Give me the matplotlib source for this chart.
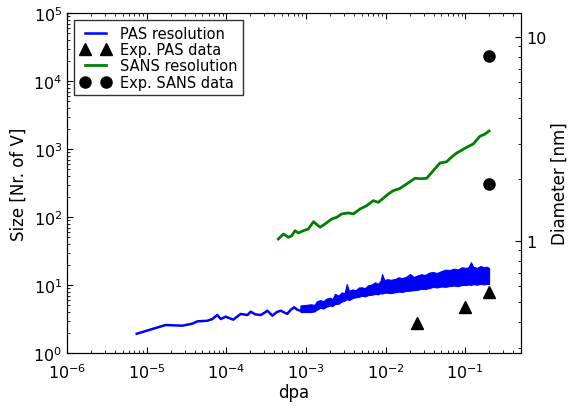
import numpy as np
import matplotlib
matplotlib.use("Agg")
import matplotlib.pyplot as plt
from matplotlib.ticker import LogLocator, FuncFormatter, NullFormatter

# ---- data ----
pas_line_dpa = [7.5e-6, 1.73e-5, 2.8e-5, 3.74e-5, 4.33e-5, 5.78e-5, 6.68e-5, 7.7e-5,
                8.5e-5, 9.8e-5, 1.22e-4, 1.51e-4, 1.84e-4, 2.02e-4, 2.3e-4, 2.7e-4,
                3.0e-4, 3.27e-4, 3.78e-4, 4.3e-4, 4.8e-4, 5.8e-4, 6.4e-4, 7.1e-4,
                7.8e-4, 8.5e-4, 9.5e-4]
pas_line_size = [1.92, 2.58, 2.52, 2.70, 2.92, 2.98, 3.16, 3.62,
                 3.16, 3.42, 3.09, 3.75, 3.62, 4.05, 3.7, 3.62,
                 3.9, 4.19, 3.54, 4.0, 4.19, 3.75, 4.3, 4.7,
                 4.3, 4.19, 4.6]

pas_band_dpa = [8.5e-4, 1.0e-3, 1.15e-3, 1.28e-3, 1.35e-3, 1.5e-3, 1.65e-3, 1.8e-3,
                2.0e-3, 2.15e-3, 2.3e-3, 2.55e-3, 2.8e-3, 3.05e-3, 3.24e-3, 3.45e-3,
                3.8e-3, 4.2e-3, 4.6e-3, 5.0e-3, 5.5e-3, 6.0e-3, 6.7e-3, 7.35e-3,
                8.0e-3, 8.6e-3, 9.0e-3, 9.6e-3, 1.05e-2, 1.15e-2, 1.31e-2, 1.45e-2,
                1.6e-2, 1.8e-2, 2.02e-2, 2.25e-2, 2.5e-2, 2.8e-2, 3.1e-2, 3.5e-2,
                3.9e-2, 4.4e-2, 5.0e-2, 5.6e-2, 6.4e-2, 7.2e-2, 8.0e-2, 9.0e-2,
                0.104, 0.11, 0.1175, 0.125, 0.14, 0.155, 0.17, 0.185, 0.198]
pas_band_hi = [5.0, 5.1, 5.2, 5.1, 5.7, 6.0, 5.8, 6.3, 6.5, 6.2,
               7.4, 7.0, 7.8, 7.6, 10.3, 8.2, 8.6, 8.4, 9.2, 9.25,
               9.0, 9.9, 10.2, 10.96, 10.4, 11.5, 14.5, 11.8, 12.2, 11.9,
               12.25, 13.0, 12.6, 13.2, 14.5, 13.1, 13.8, 14.4, 14.0, 15.2,
               15.5, 15.0, 16.0, 16.8, 16.6, 17.4, 16.9, 18.2, 17.8, 18.6,
               21.6, 18.5, 17.9, 19.0, 18.2, 18.6, 17.8]
pas_band_lo = [4.0, 4.0, 4.0, 4.1, 4.3, 4.6, 4.5, 4.8, 5.0, 4.9,
               5.25, 5.3, 5.7, 5.9, 6.2, 6.0, 6.4, 6.6, 6.7, 6.96,
               6.8, 7.1, 7.2, 7.38, 7.3, 7.6, 7.5, 7.7, 7.7, 7.6,
               7.81, 8.0, 7.9, 8.2, 8.24, 8.4, 8.5, 8.8, 8.7, 9.0,
               9.35, 9.2, 9.5, 9.4, 9.67, 9.8, 9.6, 10.0, 10.0, 10.2,
               10.0, 10.3, 10.1, 10.4, 10.2, 10.4, 10.3]

sans_dpa = [4.49e-4, 5.19e-4, 6.0e-4, 6.62e-4, 7.28e-4, 8.0e-4, 9.25e-4, 1.07e-3,
            1.24e-3, 1.5e-3, 1.73e-3, 2.1e-3, 2.43e-3, 2.8e-3, 3.4e-3, 3.92e-3,
            4.76e-3, 5.78e-3, 6.99e-3, 8.07e-3, 1.08e-2, 1.245e-2, 1.5e-2, 1.83e-2,
            2.33e-2, 2.8e-2, 3.27e-2, 3.95e-2, 4.8e-2, 5.82e-2, 6.7e-2, 7.78e-2,
            0.09, 0.1038, 0.1256, 0.152, 0.175, 0.198]
sans_size = [47.5, 56.2, 50.3, 53.1, 62.9, 58.2, 62.9, 66.6,
             85.3, 70.6, 78.9, 93.5, 99, 111, 114.5, 111,
             131, 147, 174, 164, 218, 244, 262, 306,
             371, 365, 371, 480, 622, 650, 760, 873,
             960, 1060, 1185, 1540, 1650, 1840]

exp_pas_dpa = [0.025, 0.1, 0.2]
exp_pas_size = [2.75, 4.8, 7.9]
exp_sans_dpa = [0.2, 0.2]
exp_sans_size = [2.3e4, 307]

x_ticks = [1e-6, 1e-5, 1e-4, 1e-3, 1e-2, 1e-1]
y_ticks = [1, 10, 100, 1e3, 1e4, 1e5]
d_ticks = [1, 10]

# Fe atomic volume (nm^3) -> vacancy-cluster diameter
omega = 0.2866 ** 3 / 2.0
def n_to_d(n):
    return (6.0 * np.asarray(n) * omega / np.pi) ** (1.0 / 3.0)

fig = plt.figure(figsize=(5.69, 4.10), dpi=100)
ax = fig.add_axes([0.1178, 0.1366, 0.798, 0.8293])

blue = (0, 0, 1)
ax.plot(pas_line_dpa, pas_line_size, color=blue, lw=1.8, label='PAS resolution')
ax.fill_between(pas_band_dpa, pas_band_lo, pas_band_hi, facecolor=blue, lw=0.8,
                edgecolor=blue)
ax.plot(exp_pas_dpa, exp_pas_size, 'k^', ms=8, ls='none', label='Exp. PAS data')
ax.plot(sans_dpa, sans_size, color=(0, 0.5, 0), lw=2, label='SANS resolution')
ax.plot(exp_sans_dpa, exp_sans_size, 'ko', ms=8, ls='none', label='Exp. SANS data')

ax.set_xscale('log')
ax.set_yscale('log')
ax.set_xlim(1e-6, 0.5)
ax.set_ylim(1, 1e5)
ax.set_xticks(x_ticks)
ax.set_yticks(y_ticks)
ax.xaxis.set_minor_locator(LogLocator(base=10, subs=np.arange(2, 10), numticks=20))
ax.yaxis.set_minor_locator(LogLocator(base=10, subs=np.arange(2, 10), numticks=20))
ax.xaxis.set_minor_formatter(NullFormatter())
ax.yaxis.set_minor_formatter(NullFormatter())
ax.tick_params(which='both', direction='in', top=True, labelsize=11.5)
ax.tick_params(which='major', length=4, width=0.8)
ax.tick_params(which='minor', length=2, width=0.6)
ax.tick_params(axis='x', pad=7)
ax.set_xlabel('dpa', fontsize=12, labelpad=1)
ax.set_ylabel('Size [Nr. of V]', fontsize=12)

leg = ax.legend(loc='upper left', numpoints=2, fontsize=10.5, frameon=True, fancybox=False,
                borderaxespad=0.5, handlelength=2.1, labelspacing=0.08, borderpad=0.4,
                handletextpad=0.6)
leg.get_frame().set_edgecolor('black')
leg.get_frame().set_linewidth(1.0)

ax2 = ax.twinx()
ax2.set_yscale('log')
ax2.set_ylim(float(n_to_d(1)), float(n_to_d(1e5)))
ax2.set_yticks(d_ticks)
ax2.yaxis.set_major_formatter(FuncFormatter(lambda v, p: '%g' % v))
ax2.yaxis.set_minor_locator(LogLocator(base=10, subs=np.arange(2, 10), numticks=20))
ax2.yaxis.set_minor_formatter(NullFormatter())
ax2.tick_params(which='both', direction='in', labelsize=11.5)
ax2.tick_params(which='major', length=4, width=0.8)
ax2.tick_params(which='minor', length=2, width=0.6)
ax2.set_ylabel('Diameter [nm]', fontsize=12, labelpad=3)

fig.savefig('out.png', dpi=100)
